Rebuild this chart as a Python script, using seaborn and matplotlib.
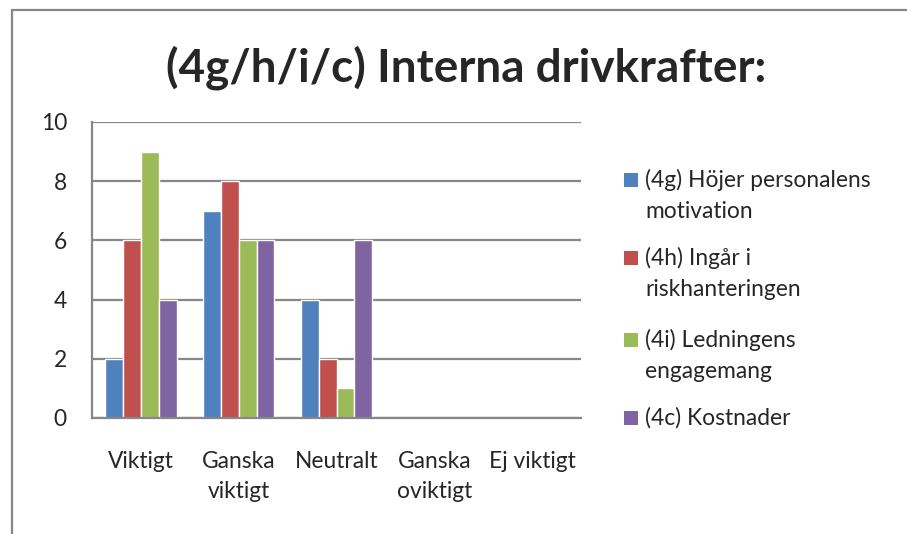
import pandas as pd
import matplotlib
matplotlib.use('Agg')
import matplotlib.pyplot as plt
import seaborn as sns
from matplotlib.lines import Line2D
from matplotlib.patches import Rectangle

# Data
categories = ['Viktigt', 'Ganska\nviktigt', 'Neutralt', 'Ganska\noviktigt', 'Ej viktigt']
series_names = ['(4g) Höjer personalens\nmotivation', '(4h) Ingår i\nriskhanteringen',
                '(4i) Ledningens\nengagemang', '(4c) Kostnader']
vals_4g = [2, 7, 4, 0, 0]
vals_4h = [6, 8, 2, 0, 0]
vals_4i = [9, 6, 1, 0, 0]
vals_4c = [4, 6, 6, 0, 0]
colors = ['#4F81BD', '#C0504D', '#9BBB59', '#8064A2']
y_ticks = [0, 2, 4, 6, 8, 10]

rows = []
for name, vals in zip(series_names, [vals_4g, vals_4h, vals_4i, vals_4c]):
    for cat, v in zip(categories, vals):
        rows.append({'kategori': cat, 'serie': name, 'antal': v})
df = pd.DataFrame(rows)

sns.set_style('white')
plt.rcParams['font.family'] = ['Lato', 'DejaVu Sans']
grid_col = '#878787'
fs = 16.4

fig = plt.figure(figsize=(9.07, 5.34), dpi=100)
ax = fig.add_axes([92 / 907, 1 - 418 / 534, (581 - 92) / 907, (418 - 122) / 534])

sns.barplot(data=df, x='kategori', y='antal', hue='serie', palette=colors,
            width=0.73, dodge=True, saturation=1, ax=ax, legend=False)

ax.set_xlim(-0.5, 4.5)
ax.set_ylim(0, 10)
ax.set_yticks(y_ticks)
ax.set_xlabel('')
ax.set_ylabel('')
ax.yaxis.grid(True, color=grid_col, linewidth=1.6)
ax.set_axisbelow(True)
for side in ['top', 'right']:
    ax.spines[side].set_visible(False)
for side in ['left', 'bottom']:
    ax.spines[side].set_color(grid_col)
    ax.spines[side].set_linewidth(1.6)
ax.tick_params(axis='y', length=0, pad=18, labelsize=fs)
ax.tick_params(axis='x', length=0, pad=24, labelsize=fs)
for lbl in ax.get_xticklabels():
    lbl.set_linespacing(1.5)

fig.text(466 / 907, 1 - 68 / 534, '(4g/h/i/c) Interna drivkrafter:', ha='center', va='center',
         fontsize=33, fontweight='bold')

# legend drawn by hand so the square sits on the first line like in Excel
legend_y = [180, 258, 340, 418]
for name, c, y in zip(series_names, colors, legend_y):
    fig.add_artist(Rectangle((624 / 907, 1 - (y + 7) / 534), 14 / 907, 14 / 534,
                             facecolor=c, edgecolor='none', transform=fig.transFigure))
    first, *rest = name.split('\n')
    fig.text(645 / 907, 1 - y / 534, first, ha='left', va='center', fontsize=fs)
    for k, line in enumerate(rest):
        fig.text(645 / 907, 1 - (y + 31 * (k + 1)) / 534, line, ha='left', va='center', fontsize=fs)

# outer chart frame (only left and top edge visible in the crop)
fig.add_artist(Line2D([11.5 / 907, 11.5 / 907], [0, 1 - 9.5 / 534], color=grid_col, linewidth=1.6,
                      transform=fig.transFigure))
fig.add_artist(Line2D([11.5 / 907, 1], [1 - 9.5 / 534, 1 - 9.5 / 534], color=grid_col, linewidth=1.6,
                      transform=fig.transFigure))

fig.savefig('out.png', dpi=100)
